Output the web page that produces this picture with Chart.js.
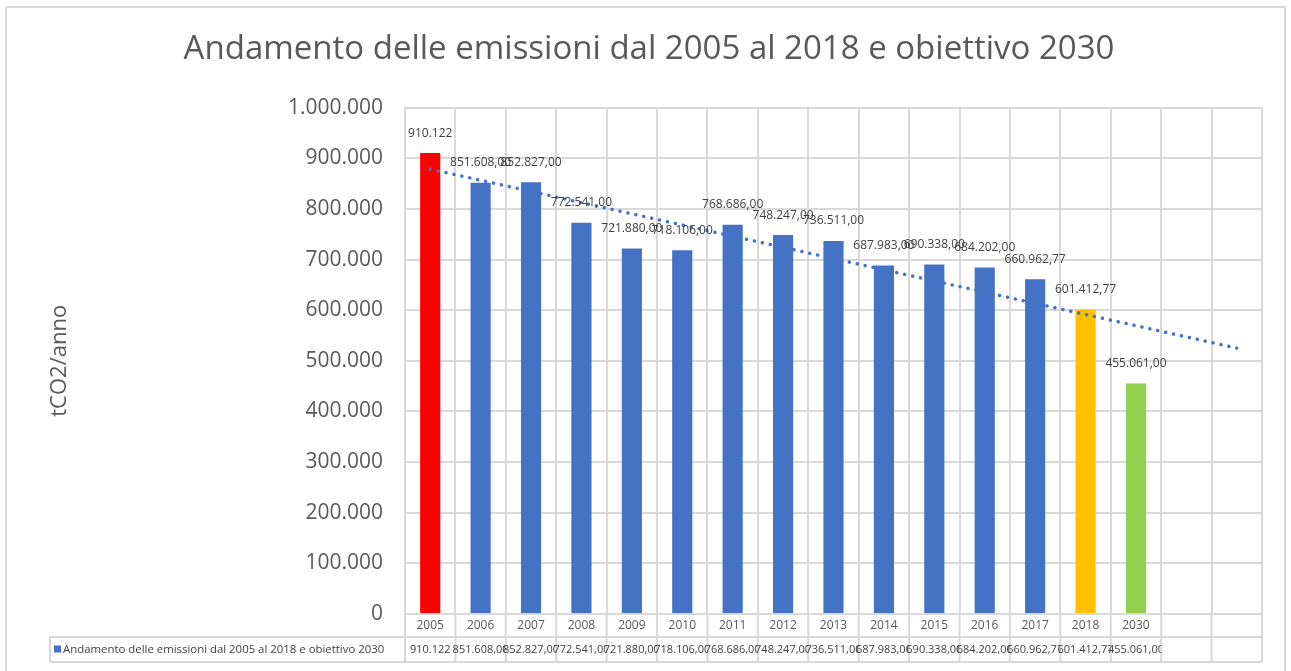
<!DOCTYPE html>
<html>
<head>
<meta charset="utf-8">
<script src="https://cdn.jsdelivr.net/npm/chart.js@4"></script>
<style>
    html, body { margin: 0; padding: 0; background: #fff; }
    #wrap { position: relative; width: 1291px; height: 671px; }
</style>
</head>
<body>
<div id="wrap"><canvas id="emissioni"></canvas></div>
<script>
// --- dati ---
const anni = ['2005', '2006', '2007', '2008', '2009', '2010', '2011', '2012', '2013', '2014', '2015', '2016', '2017', '2018', '2030', '', ''];
const emissioni = [910122, 851608, 852827, 772541, 721880, 718106, 768686, 748247, 736511, 687983, 690338, 684202, 660962.77, 601412.77, 455061, null, null];
const etichette = ['910.122', '851.608,00', '852.827,00', '772.541,00', '721.880,00', '718.106,00', '768.686,00', '748.247,00', '736.511,00', '687.983,00', '690.338,00', '684.202,00', '660.962,77', '601.412,77', '455.061,00', '', ''];
const coloriBarre = ['#FF0000', '#4472C4', '#4472C4', '#4472C4', '#4472C4', '#4472C4', '#4472C4', '#4472C4', '#4472C4', '#4472C4', '#4472C4', '#4472C4', '#4472C4', '#FFC000', '#92D050', '#4472C4', '#4472C4'];
// linea di tendenza: solo i due estremi
const tendenza = [878600, null, null, null, null, null, null, null, null, null, null, null, null, null, null, null, 525100];
const yTicks = [0, 100000, 200000, 300000, 400000, 500000, 600000, 700000, 800000, 900000, 1000000];
const titolo = 'Andamento delle emissioni dal 2005 al 2018 e obiettivo 2030';
const nomeSerie = 'Andamento delle emissioni dal 2005 al 2018 e obiettivo 2030';

const GRIGIO = '#D9D9D9';
const RIGA_ANNI = 23;
const RIGA_VALORI = 25;
const PAD_SX = 36;

function puntiMigliaia(v) {
    return String(v).replace(/\B(?=(\d{3})+(?!\d))/g, '.');
}

// cornice esterna
const cornice = {
    id: 'cornice',
    beforeDraw(chart) {
        const ctx = chart.ctx;
        ctx.save();
        ctx.strokeStyle = GRIGIO;
        ctx.lineWidth = 2;
        ctx.strokeRect(6, 7, 1279, 720);
        ctx.restore();
    }
};

// etichette sopra le barre
const etichetteBarre = {
    id: 'etichetteBarre',
    afterDatasetsDraw(chart) {
        const ctx = chart.ctx;
        const meta = chart.getDatasetMeta(0);
        ctx.save();
        ctx.font = '12px "Open Sans"';
        ctx.fillStyle = '#404040';
        ctx.textAlign = 'center';
        ctx.textBaseline = 'middle';
        meta.data.forEach((bar, i) => {
            if (emissioni[i] == null) return;
            ctx.fillText(etichette[i], bar.x, bar.y - 20);
        });
        ctx.restore();
    }
};

// tabella dati sotto l'asse x
const tabellaDati = {
    id: 'tabellaDati',
    afterDraw(chart) {
        const ctx = chart.ctx;
        const area = chart.chartArea;
        const n = anni.length;
        const catW = (area.right - area.left) / n;
        const rowTop = area.bottom + RIGA_ANNI;
        const rowBottom = rowTop + RIGA_VALORI;
        const legendLeft = 50;

        ctx.save();
        ctx.strokeStyle = GRIGIO;
        ctx.lineWidth = 2;
        ctx.beginPath();
        for (let i = 0; i <= n; i++) {
            const x = area.left + i * catW;
            ctx.moveTo(x, area.bottom);
            ctx.lineTo(x, rowBottom);
        }
        ctx.moveTo(legendLeft, rowTop);
        ctx.lineTo(area.right, rowTop);
        ctx.moveTo(legendLeft, rowBottom);
        ctx.lineTo(area.right, rowBottom);
        ctx.moveTo(legendLeft, rowTop);
        ctx.lineTo(legendLeft, rowBottom);
        ctx.stroke();

        const cy = rowTop + RIGA_VALORI / 2;
        ctx.fillStyle = '#4472C4';
        ctx.fillRect(legendLeft + 4, cy - 4, 7, 7);
        ctx.font = '11.4px "Open Sans"';
        ctx.fillStyle = '#404040';
        ctx.textBaseline = 'middle';
        ctx.textAlign = 'left';
        ctx.fillText(nomeSerie, legendLeft + 13, cy);

        ctx.font = '11px "Open Sans"';
        ctx.textAlign = 'center';
        for (let i = 0; i < n; i++) {
            if (!etichette[i]) continue;
            const x0 = area.left + i * catW;
            ctx.save();
            ctx.beginPath();
            ctx.rect(x0 - 12, rowTop, catW + 12, RIGA_VALORI);
            ctx.clip();
            ctx.fillText(etichette[i], x0 + catW / 2, cy);
            ctx.restore();
        }
        ctx.restore();
    }
};

const ctx = document.getElementById('emissioni').getContext('2d');

new Chart(ctx, {
    data: {
        labels: anni,
        datasets: [
            {
                type: 'bar',
                label: nomeSerie,
                data: emissioni,
                backgroundColor: coloriBarre,
                barPercentage: 0.4,
                categoryPercentage: 1.0,
                order: 2
            },
            {
                type: 'line',
                label: 'Tendenza',
                data: tendenza,
                borderColor: '#4472C4',
                borderWidth: 3.5,
                borderDash: [0.1, 8],
                borderCapStyle: 'round',
                pointRadius: 0,
                spanGaps: true,
                fill: false,
                order: 1
            }
        ]
    },
    options: {
        responsive: true,
        maintainAspectRatio: false,
        animation: false,
        layout: { padding: { top: 0, right: 29, bottom: 9, left: PAD_SX } },
        plugins: {
            legend: { display: false },
            tooltip: { enabled: false },
            title: {
                display: true,
                text: titolo,
                color: '#595959',
                font: { family: '"Open Sans"', size: 33, weight: 'normal' },
                padding: { top: 30, bottom: 38 }
            }
        },
        scales: {
            x: {
                offset: true,
                grid: { color: GRIGIO, lineWidth: 2, offset: true, drawTicks: false },
                border: { color: GRIGIO, width: 2 },
                ticks: {
                    color: '#595959',
                    font: { family: '"Open Sans"', size: 12 },
                    padding: 4,
                    maxRotation: 0,
                    autoSkip: false
                },
                afterFit(scale) { scale.height = RIGA_ANNI + RIGA_VALORI; }
            },
            y: {
                min: 0,
                max: 1000000,
                afterBuildTicks(scale) { scale.ticks = yTicks.map(v => ({ value: v })); },
                grid: { color: GRIGIO, lineWidth: 2, drawTicks: false },
                border: { color: GRIGIO, width: 2 },
                ticks: {
                    color: '#595959',
                    font: { family: '"Open Sans"', size: 21 },
                    padding: 22,
                    callback: v => puntiMigliaia(v)
                },
                title: {
                    display: true,
                    text: 'tCO2/anno',
                    color: '#595959',
                    font: { family: '"Open Sans"', size: 22 },
                    padding: { top: 11, bottom: 0 }
                },
                afterFit(scale) { scale.width = 405 - PAD_SX; }
            }
        }
    },
    plugins: [cornice, etichetteBarre, tabellaDati]
});
</script>
</body>
</html>
